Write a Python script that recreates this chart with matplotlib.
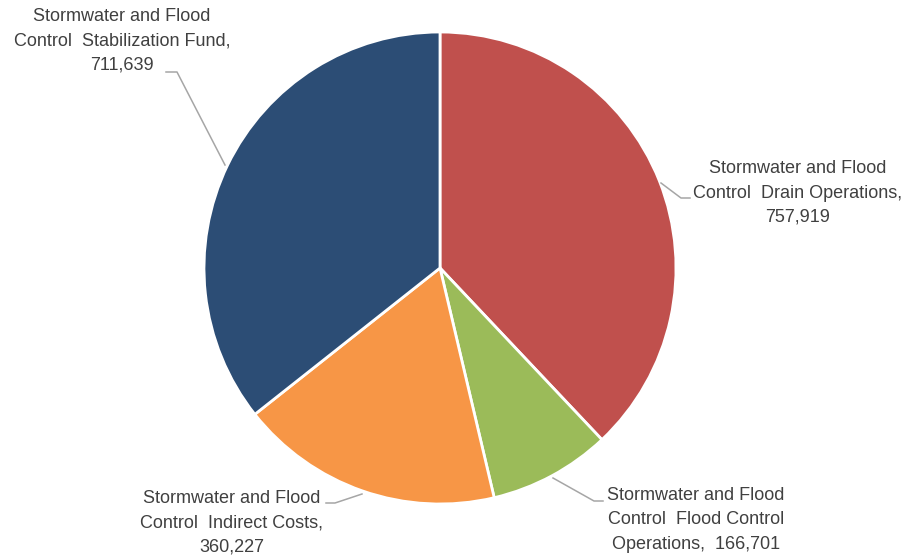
import matplotlib
matplotlib.use("Agg")
import matplotlib.pyplot as plt

# fund amounts, clockwise from 12 o'clock
names = ["Stormwater and Flood\nControl  Drain Operations,",
         "Stormwater and Flood\nControl  Flood Control\nOperations,",
         "Stormwater and Flood\nControl  Indirect Costs,",
         "Stormwater and Flood\nControl  Stabilization Fund,"]
values = [757919, 166701, 360227, 711639]
colors = ["#C0504D", "#9BBB59", "#F79646", "#2C4D75"]

W, H = 909, 557
fig = plt.figure(figsize=(W / 100, H / 100), dpi=100)
ax = fig.add_axes([0, 0, 1, 1])

cx, cy, r = 440, H - 268, 236
ax.pie(values, colors=colors, startangle=90, counterclock=False,
       center=(cx, cy), radius=r, frame=True,
       wedgeprops=dict(edgecolor="white", linewidth=2))
ax.set_xlim(0, W)
ax.set_ylim(0, H)
ax.set_aspect("equal")
ax.axis("off")

# label placement (pixel coords, y from top) and leader polylines
spots = [(798, 193), (696, 520), (232, 523), (122, 41)]
leaders = [[(661, 183), (681, 198), (690, 198)],
           [(553, 478), (594, 501), (603, 501)],
           [(362, 494), (335, 503), (326, 503)],
           [(225, 165), (177, 72), (166, 72)]]

for i, ((tx, ty), pts) in enumerate(zip(spots, leaders)):
    sep = "  " if i == 1 else "\n"
    s = names[i] + sep + f"{values[i]:,}"
    ax.text(tx, H - ty, s, ha="center", va="center", multialignment="center",
            fontsize=13, family="Liberation Sans", color="#404040",
            linespacing=1.55)
    xs = [p[0] for p in pts]
    ys = [H - p[1] for p in pts]
    ax.plot(xs, ys, color="#A6A6A6", lw=1.1)

fig.savefig("out.png", dpi=100)
